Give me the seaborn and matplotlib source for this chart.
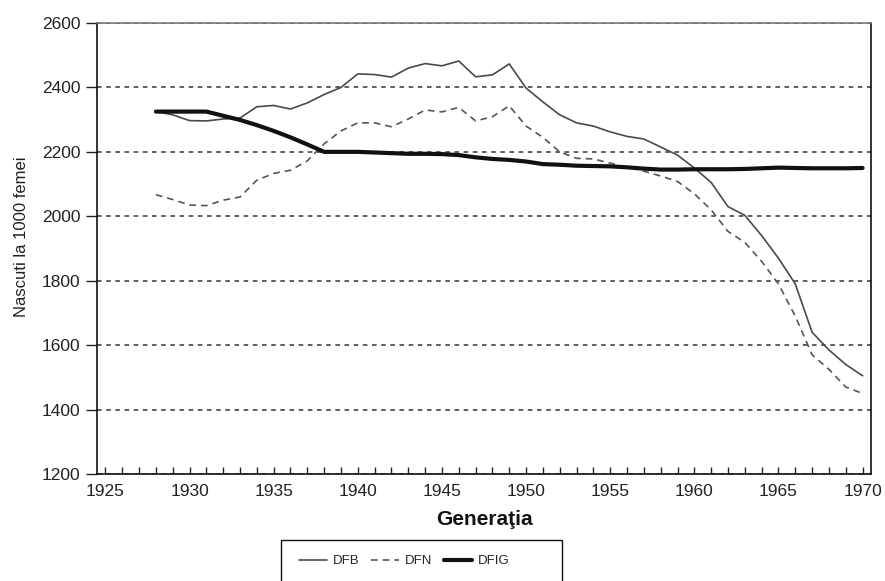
import numpy as np
import pandas as pd
import matplotlib
matplotlib.use('Agg')
import matplotlib.pyplot as plt
import seaborn as sns
from matplotlib.patches import Rectangle

years = list(range(1928, 1971))

dfb = [2325, 2315, 2297, 2296, 2302, 2305, 2340, 2344, 2333, 2352,
       2378, 2400, 2442, 2440, 2432, 2460, 2474, 2467, 2482, 2433,
       2439, 2473, 2398, 2355, 2315, 2290, 2280, 2262, 2248, 2240,
       2215, 2190, 2150, 2105, 2030, 2003, 1940, 1870, 1790, 1640,
       1585, 1540, 1505]

dfn = [2067, 2052, 2035, 2033, 2050, 2060, 2112, 2133, 2143, 2172,
       2225, 2265, 2290, 2290, 2278, 2302, 2330, 2324, 2338, 2296,
       2309, 2343, 2280, 2245, 2200, 2180, 2178, 2165, 2152, 2140,
       2125, 2108, 2070, 2020, 1953, 1919, 1860, 1790, 1690, 1570,
       1525, 1470, 1450]

dfig = [2325, 2325, 2325, 2325, 2312, 2299, 2283, 2265, 2245, 2223,
        2200, 2200, 2200, 2198, 2196, 2194, 2194, 2193, 2190, 2183,
        2178, 2175, 2170, 2162, 2160, 2157, 2156, 2155, 2152, 2148,
        2145, 2145, 2146, 2146, 2146, 2147, 2149, 2151, 2150, 2149,
        2149, 2149, 2150]

y_ticks = [1200, 1400, 1600, 1800, 2000, 2200, 2400, 2600]
x_labels = [1925, 1930, 1935, 1940, 1945, 1950, 1955, 1960, 1965, 1970]

df = pd.DataFrame({'an': years, 'DFB': dfb, 'DFN': dfn, 'DFIG': dfig})

sns.set_style('white')
plt.rcParams['font.family'] = ['Liberation Sans', 'DejaVu Sans']

fig, ax = plt.subplots(figsize=(8.85, 5.81), dpi=100)
fig.subplots_adjust(left=97/885, right=871/885, top=1-23/581, bottom=1-474/581)

# the three series
sns.lineplot(data=df, x='an', y='DFB', ax=ax, color='#4a4a4a', lw=1.2, label='DFB')
sns.lineplot(data=df, x='an', y='DFN', ax=ax, color='#555555', lw=1.2,
             linestyle=(0, (4, 3)), label='DFN')
sns.lineplot(data=df, x='an', y='DFIG', ax=ax, color='#111111', lw=3.0, label='DFIG')

ax.set_xlim(1924.5, 1970.5)
ax.set_ylim(1200, 2600)

# ticks every year, labels every 5
all_years = np.arange(1925, 1971)
ax.set_xticks(all_years)
ax.set_xticklabels([str(y) if y in x_labels else '' for y in all_years])
ax.tick_params(axis='x', direction='in', length=5, width=1, color='#222',
               labelsize=12.5, labelcolor='#222', pad=7, bottom=True)
ax.set_yticks(y_ticks)
ax.tick_params(axis='y', direction='out', length=8, width=1, color='#222',
               labelsize=12.5, labelcolor='#222', pad=4, left=True)

ax.yaxis.grid(True, linestyle=(0, (3, 3)), color='#333333', lw=1.1)
ax.xaxis.grid(False)

for side in ['left', 'right', 'bottom']:
    ax.spines[side].set_color('#111')
    ax.spines[side].set_linewidth(1.2)
ax.spines['top'].set_color('#777')
ax.spines['top'].set_linewidth(1.2)

ax.set_xlabel('Generaţia', fontsize=15, fontweight='bold', color='#111')
ax.xaxis.set_label_coords(0.501, -0.08)
ax.set_ylabel('Nascuti la 1000 femei', fontsize=12, color='#222')
ax.yaxis.set_label_coords(-0.088, 0.525)

# legend, box drawn below the plot
handles, labels = ax.get_legend_handles_labels()
ax.get_legend().remove()
fig.legend(handles, labels, loc='center left', bbox_to_anchor=(287/885, 1-561/581),
           ncol=3, frameon=False, fontsize=9.5, handlelength=2.1,
           handletextpad=0.45, columnspacing=0.9)
fig.patches.append(Rectangle((281/885, 1-585/581), 281/885, 45/581,
                             transform=fig.transFigure, fill=False,
                             edgecolor='#111', lw=1.0))

plt.savefig('out.png', dpi=100)
